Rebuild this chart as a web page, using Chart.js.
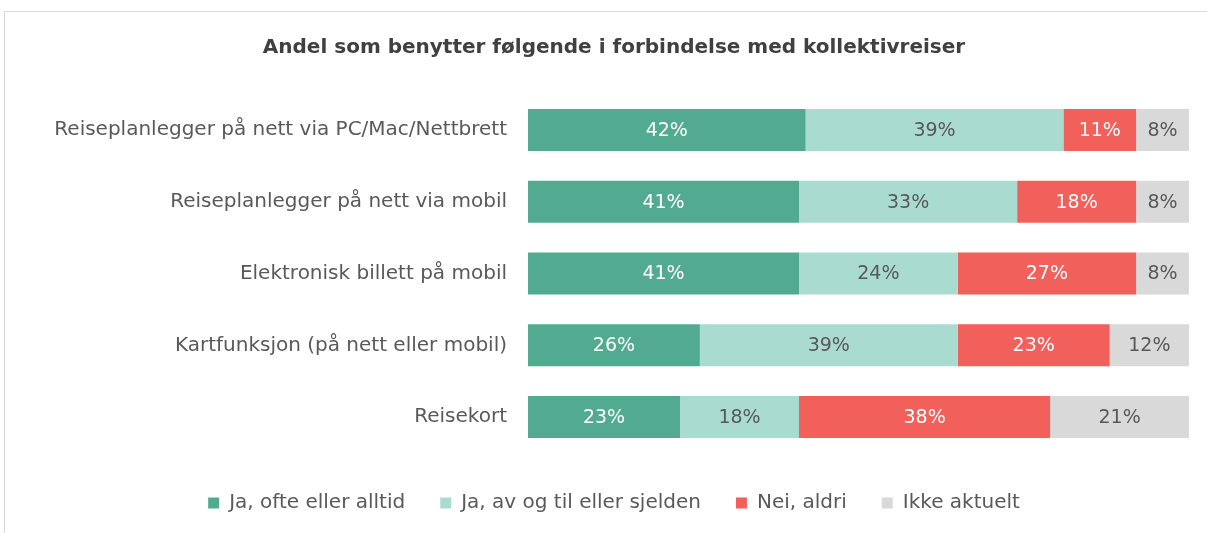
<!DOCTYPE html>
<html>
<head>
<meta charset="utf-8">
<script src="https://cdn.jsdelivr.net/npm/chart.js@4"></script>
<style>
  html, body { margin: 0; padding: 0; background: #fff; overflow: hidden; }
  #wrap { position: relative; width: 1207px; height: 533px; }
  #frame { position: absolute; left: 4px; top: 11px; width: 1400px; height: 700px; border: 1px solid #d9d9d9; box-sizing: border-box; }
  canvas { position: absolute; left: 0; top: 0; }
</style>
</head>
<body>
<div id="wrap">
  <div id="frame"></div>
  <canvas id="c" width="1207" height="533"></canvas>
</div>
<script>
const categories = [
  "Reiseplanlegger på nett via PC/Mac/Nettbrett",
  "Reiseplanlegger på nett via mobil",
  "Elektronisk billett på mobil",
  "Kartfunksjon (på nett eller mobil)",
  "Reisekort"
];
const seriesNames = ["Ja, ofte eller alltid", "Ja, av og til eller sjelden", "Nei, aldri", "Ikke aktuelt"];
const oftenValues = [42, 41, 41, 26, 23];
const sometimesValues = [39, 33, 24, 39, 18];
const neverValues = [11, 18, 27, 23, 38];
const notRelevantValues = [8, 8, 8, 12, 21];
const titleText = "Andel som benytter følgende i forbindelse med kollektivreiser";

const FONT = "'DejaVu Sans', sans-serif";
const colors = ["#52ab91", "#a9dbd0", "#f2605b", "#d9d9d9"];
const labelColors = ["#ffffff", "#595959", "#ffffff", "#595959"];
const seriesValues = [oftenValues, sometimesValues, neverValues, notRelevantValues];

const dataLabels = {
  id: 'dataLabels',
  afterDatasetsDraw(chart) {
    const ctx = chart.ctx;
    ctx.save();
    ctx.font = "19px " + FONT;
    ctx.textAlign = 'center';
    ctx.textBaseline = 'middle';
    chart.data.datasets.forEach((ds, di) => {
      const meta = chart.getDatasetMeta(di);
      meta.data.forEach((el, i) => {
        const p = el.getCenterPoint();
        ctx.fillStyle = labelColors[di];
        ctx.fillText(ds.data[i] + '%', p.x, p.y + 1);
      });
    });
    ctx.restore();
  }
};

new Chart(document.getElementById('c'), {
  type: 'bar',
  data: {
    labels: categories,
    datasets: seriesNames.map((n, i) => ({
      label: n,
      data: seriesValues[i],
      backgroundColor: colors[i],
      borderWidth: 0,
      categoryPercentage: 0.585,
      barPercentage: 1.0
    }))
  },
  options: {
    indexAxis: 'y',
    responsive: false,
    animation: false,
    layout: { padding: { left: 39, right: 18, top: 0, bottom: 10 } },
    scales: {
      x: {
        stacked: true, min: 0, max: 100,
        grid: { display: false }, border: { display: false },
        ticks: { display: false },
        afterFit(scale) { scale.height = 5; }
      },
      y: {
        stacked: true,
        grid: { display: false },
        border: { display: false },
        ticks: { color: '#595959', font: { size: 20, family: FONT }, padding: 13 },
        afterFit(scale) { scale.width = 489; }
      }
    },
    plugins: {
      title: {
        display: true,
        text: titleText,
        color: '#404040',
        font: { size: 20, weight: 'bold', family: FONT },
        padding: { top: 36, bottom: 34 }
      },
      legend: {
        position: 'bottom',
        labels: {
          color: '#595959',
          font: { size: 20, family: FONT },
          boxWidth: 11,
          boxHeight: 11,
          padding: 35
        }
      },
      tooltip: { enabled: false }
    }
  },
  plugins: [dataLabels]
});
</script>
</body>
</html>
